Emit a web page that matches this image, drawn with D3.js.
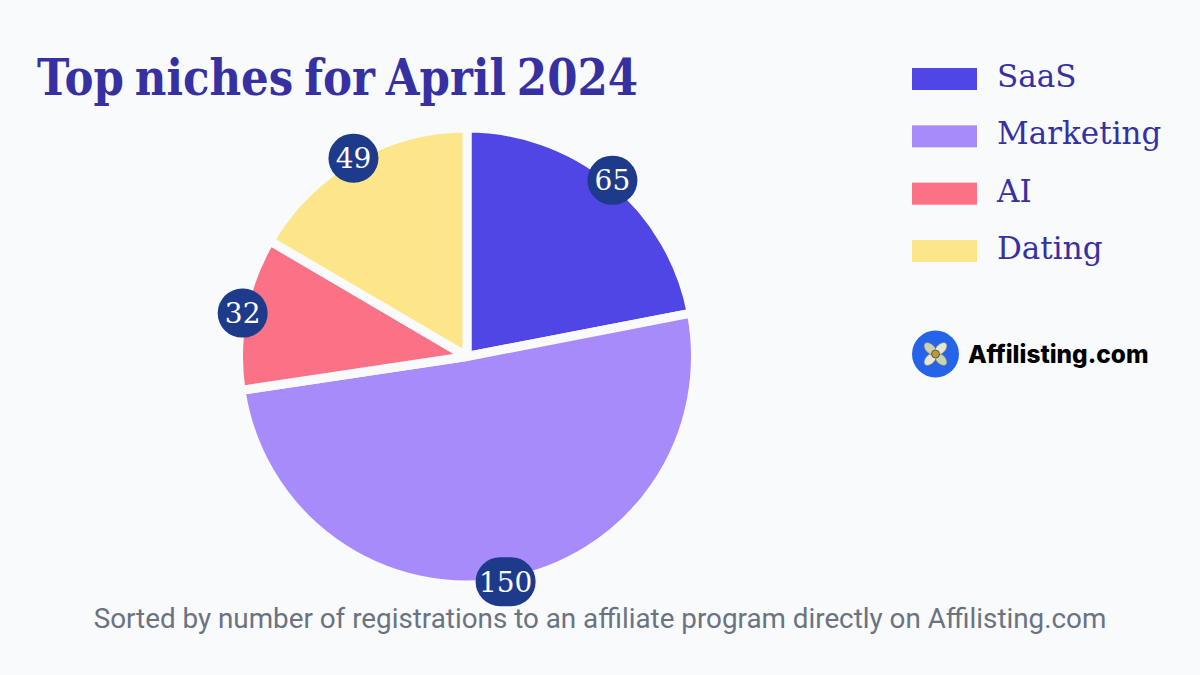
<!DOCTYPE html>
<html>
<head>
<meta charset="utf-8">
<script src="https://cdn.jsdelivr.net/npm/d3@7"></script>
<style>
html, body { margin: 0; padding: 0; background: #f8fafc; }
svg { display: block; }
</style>
</head>
<body>
<svg></svg>
<script>
// the chart's values
var categories = ['SaaS', 'Marketing', 'AI', 'Dating'];
var registrations = [65, 150, 32, 49];
var colors = ['#4f46e5', '#a78bfa', '#fb7185', '#fde68a'];

var titleText = 'Top niches for April 2024';
var subtitleText = 'Sorted by number of registrations to an affiliate program directly on Affilisting.com';
var brandText = 'Affilisting.com';

// Some global settings
var CONF = {
	width: 1200,
	height: 675,
	bg: '#f8fafc',
	cx: 467,
	cy: 356.5,
	radius: 228.5,
	gap: 9,
	titleColor: '#3730a3',
	badgeColor: '#1e3a8a',
	serif: '"DejaVu Serif", serif'
};

function drawChart() {
	var svg = d3.select('svg')
		.attr('width', CONF.width)
		.attr('height', CONF.height);

	svg.append('rect')
		.attr('width', CONF.width)
		.attr('height', CONF.height)
		.style('fill', CONF.bg);

	// title
	svg.append('text')
		.attr('x', 37)
		.attr('y', 95)
		.attr('textLength', 601)
		.attr('lengthAdjust', 'spacingAndGlyphs')
		.style('font-family', CONF.serif)
		.style('font-weight', 'bold')
		.style('font-size', '51px')
		.style('word-spacing', '-5px')
		.style('fill', CONF.titleColor)
		.text(titleText);

	// the pie
	var color = d3.scaleOrdinal().domain(categories).range(colors);

	var pie = d3.pie()
		.sort(null)
		.value(function(d, i) { return registrations[i]; });

	var arc = d3.arc()
		.innerRadius(0)
		.outerRadius(CONF.radius);

	var main_g = svg.append('g')
		.attr('transform', 'translate('+CONF.cx+','+CONF.cy+')');

	var slices = pie(categories);

	// background coloured stroke makes the gaps between slices
	main_g.selectAll('path.slice')
		.data(slices)
		.enter()
		.append('path')
			.attr('class', 'slice')
			.attr('d', arc)
			.style('fill', function(d) { return color(d.data); })
			.style('stroke', CONF.bg)
			.style('stroke-width', CONF.gap)
			.style('stroke-linejoin', 'bevel');

	// value badges sit on the rim of each slice
	var rimArc = d3.arc()
		.innerRadius(CONF.radius)
		.outerRadius(CONF.radius);

	var badges = main_g.selectAll('g.badge')
		.data(slices)
		.enter()
		.append('g')
			.attr('class', 'badge')
			.attr('transform', function(d) {
				return 'translate('+rimArc.centroid(d)+')';
			});

	badges.append('rect')
		.attr('x', function(d) { return d.value > 99 ? -30 : -25; })
		.attr('y', -24.5)
		.attr('width', function(d) { return d.value > 99 ? 60 : 50; })
		.attr('height', 49)
		.attr('rx', 24.5)
		.style('fill', CONF.badgeColor);

	badges.append('text')
		.attr('text-anchor', 'middle')
		.attr('y', 10)
		.style('font-family', CONF.serif)
		.style('font-size', '28px')
		.style('fill', '#ffffff')
		.text(function(d) { return d.value; });

	// legend
	var legendY = d3.scalePoint()
		.domain(categories)
		.range([79, 251]);

	var legend = svg.selectAll('g.legend')
		.data(categories)
		.enter()
		.append('g')
			.attr('class', 'legend')
			.attr('transform', function(d) {
				return 'translate(912,'+legendY(d)+')';
			});

	legend.append('rect')
		.attr('y', -11)
		.attr('width', 65)
		.attr('height', 22)
		.style('fill', function(d) { return color(d); });

	legend.append('text')
		.attr('x', 85)
		.attr('y', 8)
		.style('font-family', CONF.serif)
		.style('font-size', '31px')
		.style('fill', CONF.titleColor)
		.text(function(d) { return d; });

	// brand logo
	var logo = svg.append('g')
		.attr('transform', 'translate(935.5,354)');

	logo.append('circle')
		.attr('r', 23.5)
		.style('fill', '#2563eb');

	logo.selectAll('ellipse')
		.data([45, 135, 225, 315])
		.enter()
		.append('ellipse')
			.attr('cx', 7.5)
			.attr('rx', 7.5)
			.attr('ry', 4.5)
			.attr('transform', function(d) { return 'rotate('+d+')'; })
			.style('fill', function(d, i) { return i % 2 ? '#e8e6d6' : '#c9d2b4'; })
			.style('stroke', '#6f7a5e')
			.style('stroke-width', 0.6);

	logo.append('circle')
		.attr('r', 4)
		.style('fill', '#b99a3c')
		.style('stroke', '#4a4a2a')
		.style('stroke-width', 0.8);

	svg.append('text')
		.attr('x', 968)
		.attr('y', 363)
		.style('font-family', 'Inter, sans-serif')
		.style('font-weight', 800)
		.style('font-size', '24.4px')
		.style('fill', '#000000')
		.text(brandText);

	// footer note
	svg.append('text')
		.attr('x', 600)
		.attr('y', 628)
		.attr('text-anchor', 'middle')
		.style('font-family', 'Roboto, sans-serif')
		.style('font-size', '27.8px')
		.style('fill', '#6b7280')
		.text(subtitleText);
}

drawChart();
</script>
</body>
</html>
